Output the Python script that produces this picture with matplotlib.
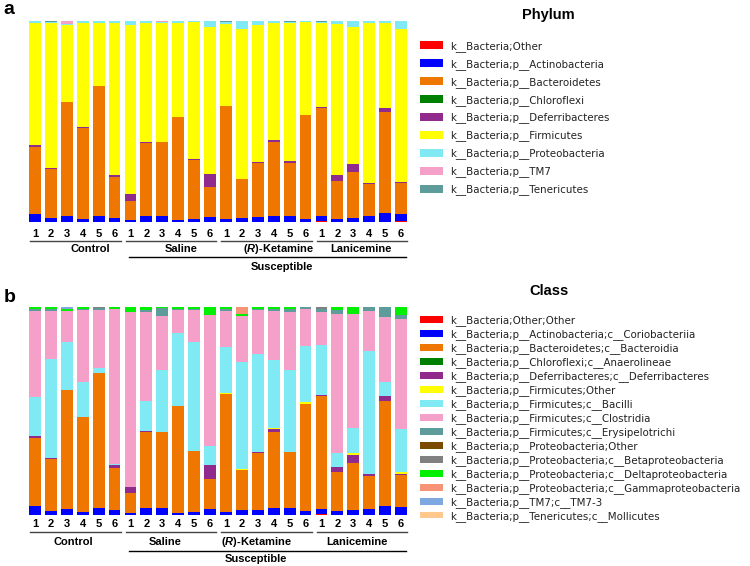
import matplotlib
matplotlib.use("Agg")
import matplotlib.pyplot as plt
import matplotlib.transforms as mtransforms
import numpy as np

groups = ["Control", "Saline", "(R)-Ketamine", "Lanicemine"]
sample_labels = ["1", "2", "3", "4", "5", "6"] * 4

# ---- phylum level (percent), 24 samples: Control, Saline, (R)-Ketamine, Lanicemine
ph_other = [0, 0, 0, 0, 0, 0, 0, 0, 0, 0, 0, 0, 0, 0, 0, 0, 0, 0, 0.5, 0, 0, 0, 0, 0.4]
ph_actino = [4.1, 2.0, 2.8, 1.5, 3.0, 2.1, 1.0, 3.0, 3.0, 1.0, 1.5, 2.5,
             1.3, 2.0, 2.3, 2.8, 3.1, 1.5, 2.3, 1.7, 2.1, 2.8, 4.5, 3.4]
ph_bacteroid = [33.0, 24.4, 57.1, 45.2, 64.8, 20.2, 9.2, 36.3, 36.6, 51.1, 29.4, 14.8,
                56.5, 19.6, 27.1, 36.8, 26.3, 51.8, 53.8, 18.9, 22.7, 16.2, 50.0, 15.5]
ph_chloro = [0] * 24
ph_deferri = [1.0, 0.6, 0, 0.4, 0, 1.3, 3.5, 0.7, 0, 0, 0.3, 6.8,
              0, 0, 0.5, 1.3, 0.8, 0, 0.8, 2.7, 4.1, 0.6, 2.1, 0.7]
ph_firmi = [60.9, 72.0, 38.0, 51.9, 31.2, 75.4, 84.2, 59.0, 59.4, 46.9, 68.3, 72.9,
            40.5, 74.3, 68.1, 58.1, 68.8, 46.2, 41.6, 75.2, 68.1, 79.4, 42.4, 75.9]
ph_proteo = [1.0, 0.6, 0.6, 1.0, 1.0, 1.0, 2.1, 1.0, 0.6, 1.0, 0.5, 3.0,
             1.2, 4.1, 2.0, 1.0, 0.5, 0.5, 0.6, 1.5, 3.0, 1.0, 1.0, 4.1]
ph_tm7 = [0, 0, 1.5, 0, 0, 0, 0, 0, 0.4, 0, 0, 0,
          0, 0, 0, 0, 0, 0, 0, 0, 0, 0, 0, 0]
ph_teneri = [0, 0.4, 0, 0, 0, 0, 0, 0, 0, 0, 0, 0,
             0.5, 0, 0, 0, 0.5, 0, 0.4, 0, 0, 0, 0, 0]

# ---- class level (percent)
cl_other = [0] * 18 + [0.5, 0, 0, 0, 0, 0]
cl_corio = [4.3, 2.1, 2.9, 1.6, 3.2, 2.4, 0.8, 3.2, 3.2, 1.1, 1.6, 2.7,
            1.3, 2.4, 2.6, 3.2, 3.4, 1.9, 2.5, 2.1, 2.6, 3.0, 4.5, 4.0]
cl_bacteroidia = [32.9, 24.9, 57.3, 45.4, 65.0, 20.1, 9.6, 36.6, 36.6, 51.4, 29.4, 14.8,
                  56.8, 19.3, 27.1, 36.9, 26.8, 51.5, 54.0, 18.6, 22.3, 15.8, 50.1, 15.3]
cl_anaero = [0] * 24
cl_deferri = [1.0, 0.4, 0, 0, 0, 1.3, 3.2, 0.4, 0, 0, 0, 6.7,
              0, 0, 0.6, 1.2, 0.3, 0, 0.6, 2.6, 4.0, 0.8, 2.4, 0.6]
cl_firm_other = [0, 0, 0, 0, 0, 0, 0, 0, 0, 0, 0, 0,
                 0.4, 0.4, 0, 0.4, 0, 1.0, 0, 0, 0.8, 0, 0, 0.8]
cl_bacilli = [18.5, 47.6, 22.8, 17.0, 2.4, 0.8, 0, 14.8, 29.7, 35.0, 52.1, 9.0,
              22.1, 51.3, 47.1, 32.9, 39.0, 27.0, 24.1, 6.7, 12.3, 59.1, 6.9, 20.6]
cl_clostridia = [41.2, 22.9, 14.9, 34.4, 27.8, 74.4, 84.0, 42.4, 26.0, 10.9, 15.6, 63.1,
                 17.3, 22.4, 21.0, 23.3, 27.9, 17.8, 15.9, 66.8, 54.8, 19.5, 31.3, 52.9]
cl_erysip = [1.1, 1.1, 0.4, 0.8, 1.0, 0, 0, 1.2, 4.0, 0.6, 0.3, 0,
             1.1, 0, 0.6, 1.3, 1.6, 0.8, 1.4, 1.9, 0, 1.8, 4.8, 1.8]
cl_proteo_other = [0] * 24
cl_beta = [0, 0, 0, 0, 0.6, 0, 0, 0, 0, 0, 0, 0,
           0, 0, 0, 0, 0, 0, 1.0, 0, 0, 0, 0, 0]
cl_delta = [1.0, 1.0, 0.5, 0.8, 0, 1.0, 2.4, 1.4, 0.5, 1.0, 1.0, 3.7,
            1.0, 1.0, 1.0, 0.8, 1.0, 0, 0, 1.3, 3.2, 0, 0, 4.0]
cl_gamma = [0] * 13 + [3.2] + [0] * 10
cl_tm7 = [0, 0, 1.2] + [0] * 21
cl_mollic = [0] * 24

phylum_names = ["k__Bacteria;Other", "k__Bacteria;p__Actinobacteria",
                "k__Bacteria;p__Bacteroidetes", "k__Bacteria;p__Chloroflexi",
                "k__Bacteria;p__Deferribacteres", "k__Bacteria;p__Firmicutes",
                "k__Bacteria;p__Proteobacteria", "k__Bacteria;p__TM7",
                "k__Bacteria;p__Tenericutes"]
phylum_colors = ["#ff0000", "#0000ff", "#ef7700", "#008000", "#902a8c",
                 "#ffff00", "#80eaf4", "#f5a0c8", "#5e9c9c"]
phylum_vals = [ph_other, ph_actino, ph_bacteroid, ph_chloro, ph_deferri,
               ph_firmi, ph_proteo, ph_tm7, ph_teneri]

class_names = ["k__Bacteria;Other;Other",
               "k__Bacteria;p__Actinobacteria;c__Coriobacteriia",
               "k__Bacteria;p__Bacteroidetes;c__Bacteroidia",
               "k__Bacteria;p__Chloroflexi;c__Anaerolineae",
               "k__Bacteria;p__Deferribacteres;c__Deferribacteres",
               "k__Bacteria;p__Firmicutes;Other",
               "k__Bacteria;p__Firmicutes;c__Bacilli",
               "k__Bacteria;p__Firmicutes;c__Clostridia",
               "k__Bacteria;p__Firmicutes;c__Erysipelotrichi",
               "k__Bacteria;p__Proteobacteria;Other",
               "k__Bacteria;p__Proteobacteria;c__Betaproteobacteria",
               "k__Bacteria;p__Proteobacteria;c__Deltaproteobacteria",
               "k__Bacteria;p__Proteobacteria;c__Gammaproteobacteria",
               "k__Bacteria;p__TM7;c__TM7-3",
               "k__Bacteria;p__Tenericutes;c__Mollicutes"]
class_colors = ["#ff0000", "#0000ff", "#ef7700", "#008000", "#902a8c",
                "#ffff00", "#80eaf4", "#f5a0c8", "#5e9c9c", "#7a4a00",
                "#808080", "#00ee00", "#f79478", "#80a8e0", "#ffc88c"]
class_vals = [cl_other, cl_corio, cl_bacteroidia, cl_anaero, cl_deferri,
              cl_firm_other, cl_bacilli, cl_clostridia, cl_erysip, cl_proteo_other,
              cl_beta, cl_delta, cl_gamma, cl_tm7, cl_mollic]


def stacked(ax, values, colors, names):
    x = np.arange(24)
    bottom = np.zeros(24)
    handles = []
    for v, c, n in zip(values, colors, names):
        v = np.array(v, dtype=float)
        h = ax.bar(x, v, bottom=bottom, width=0.74, color=c, label=n, linewidth=0)
        handles.append(h)
        bottom += v
    ax.set_xlim(-0.5, 23.5)
    ax.set_ylim(0, 100)
    ax.axis("off")
    return handles


def group_labels(fig, ax, y_num, y_line, y_txt, y_sline, y_stxt, txt_x, susc_x):
    tr = mtransforms.blended_transform_factory(ax.transData, fig.transFigure)
    for i, lab in enumerate(sample_labels):
        ax.text(i, y_num, lab, transform=tr, ha="center", va="center",
                fontsize=8, fontweight="bold", family="Liberation Sans")
    for g, name in enumerate(groups):
        x0 = g * 6 - 0.3
        x1 = g * 6 + 5.4
        ax.plot([x0, x1], [y_line, y_line], transform=tr, color="#444444",
                lw=1, clip_on=False)
        if name == "(R)-Ketamine":
            name = "($\\mathbfit{R}$)-Ketamine"
        ax.text(txt_x[g], y_txt, name, transform=tr, ha="center", va="center",
                fontsize=8, fontweight="bold", family="Liberation Sans")
    ax.plot([5.9, 23.3], [y_sline, y_sline], transform=tr, color="black",
            lw=1, clip_on=False)
    ax.text(susc_x, y_stxt, "Susceptible", transform=tr, ha="center", va="center",
            fontsize=8, fontweight="bold", family="Liberation Sans")


plt.rcParams["mathtext.fontset"] = "custom"
plt.rcParams["mathtext.bfit"] = "Liberation Sans:bold:italic"

fig = plt.figure(figsize=(7.5, 5.66), dpi=100)

ax1 = fig.add_axes([27 / 750, 1 - 222 / 566, 382 / 750, 201 / 566])
h1 = stacked(ax1, phylum_vals, phylum_colors, phylum_names)
group_labels(fig, ax1, 1 - 234 / 566, 1 - 241 / 566, 1 - 249 / 566,
             1 - 257 / 566, 1 - 267 / 566, [3.5, 9.2, 15.3, 20.5], 15.5)

ax2 = fig.add_axes([27 / 750, 1 - 515 / 566, 382 / 750, 208 / 566])
h2 = stacked(ax2, class_vals, class_colors, class_names)
group_labels(fig, ax2, 1 - 524 / 566, 1 - 532 / 566, 1 - 542 / 566,
             1 - 551 / 566, 1 - 559 / 566, [2.4, 8.2, 13.9, 20.2], 13.9)

fig.text(9 / 750, 1 - 10 / 566, "a", fontsize=14, fontweight="bold",
         family="Liberation Sans", ha="center", va="center")
fig.text(10 / 750, 1 - 297 / 566, "b", fontsize=14, fontweight="bold",
         family="Liberation Sans", ha="center", va="center")
fig.text(548 / 750, 1 - 15 / 566, "Phylum", fontsize=10.5, fontweight="bold",
         family="Liberation Sans", ha="center", va="center")
fig.text(549 / 750, 1 - 291 / 566, "Class", fontsize=10.5, fontweight="bold",
         family="Liberation Sans", ha="center", va="center")

fig.legend(handles=h1, labels=phylum_names, loc="upper left",
           bbox_to_anchor=(420 / 750, 1 - 41 / 566), frameon=False,
           fontsize=7.4, labelspacing=0.68, handlelength=2.2, handleheight=0.8,
           handletextpad=0.75, borderpad=0, borderaxespad=0, labelcolor="#222222")
fig.legend(handles=h2, labels=class_names, loc="upper left",
           bbox_to_anchor=(420 / 750, 1 - 315 / 566), frameon=False,
           fontsize=7.4, labelspacing=0.3, handlelength=2.2, handleheight=0.6,
           handletextpad=0.75, borderpad=0, borderaxespad=0, labelcolor="#222222")

fig.savefig("out.png", dpi=100)
